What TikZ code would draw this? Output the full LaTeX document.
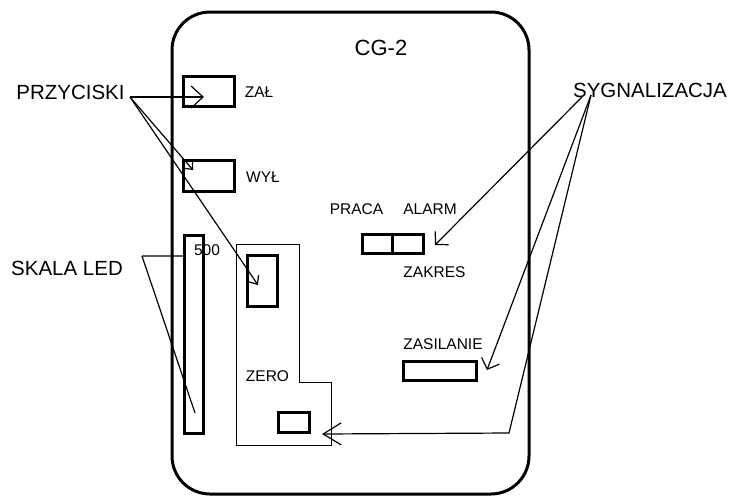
\documentclass[tikz,border=0pt]{standalone}
\usepackage{fontspec}
\setmainfont{Liberation Sans}
\usetikzlibrary{arrows.meta}
\tikzset{
	btn/.style={draw,line width=3,inner sep=0,outer sep=0},
	bigtxt/.style={inner sep=0,font=\fontsize{20.5}{22}\selectfont},
	smalltxt/.style={inner sep=0,font=\fontsize{15.5}{17}\selectfont},
	lead/.style={line width=1.2}
}
\begin{document}
\begin{tikzpicture}[x=1pt,y=-1pt,line join=miter]
			\useasboundingbox (0,0) rectangle (730,496);
			% obudowa
			\draw[line width=3,rounded corners=38] (172,12) rectangle (529,494);
			\node[inner sep=0,font=\fontsize{22}{24}\selectfont] (cg) at (381,48) {CG-2};
			% przyciski
			\node[btn,minimum width=51,minimum height=30] (zal) at (209,91.5) {};
			\node[btn,minimum width=51,minimum height=31] (wyl) at (209,176) {};
			\node[smalltxt] (zallbl) at (259,92) {ZAŁ};
			\node[smalltxt] (wyllbl) at (263,177) {WYŁ};
			% skala
			\node[btn,minimum width=19,minimum height=198] (led) at (194,334.5) {};
			\node[smalltxt] (ledlbl) at (207,250) {500};
			% pole zakresu
			\draw[line width=1] (236,244) -- (299,244) -- (299,382) -- (331,382) -- (331,445) -- (236,445) -- cycle;
			\node[btn,minimum width=30,minimum height=51] (zakr) at (262.5,281) {};
			\node[btn,minimum width=31,minimum height=20] (zero) at (294,422.5) {};
			\node[smalltxt] (zerolbl) at (267.5,376) {ZERO};
			% sygnalizacja
			\node[btn,minimum width=29.5,minimum height=19] (praca) at (377.25,244) {};
			\node[btn,minimum width=31.5,minimum height=19] (alarm) at (407.75,244) {};
			\node[smalltxt] (pracalbl) at (356.5,209) {PRACA};
			\node[smalltxt] (alarmlbl) at (430,209) {ALARM};
			\node[smalltxt] (zakrlbl) at (434.5,272) {ZAKRES};
			\node[btn,minimum width=73,minimum height=19] (zas) at (440,371) {};
			\node[smalltxt] (zaslbl) at (443,344) {ZASILANIE};
			% opisy
			\node[bigtxt] (przyc) at (70.5,92) {PRZYCISKI};
			\node[bigtxt] (skala) at (67,268) {SKALA LED};
			\node[bigtxt] (syg) at (650,90) {SYGNALIZACJA};
			\coordinate (pz) at (130,97);
			\coordinate (sk) at (142,256);
			\coordinate (sy1) at (582,97);
			\coordinate (sy2) at (591,95);
			\coordinate (ledend) at (195,413);
			\coordinate (zaltip) at (204,97);
			\coordinate (wyltip) at (193,170);
			\coordinate (zakrtip) at (258,285);
			\coordinate (alarmtip) at (435,245);
			\coordinate (zastip) at (487,370);
			\coordinate (zerotip) at (322,434);
			\coordinate (zerobend) at (509,433);
			\draw[lead,-{Straight Barb[length=12,width=22]}] (pz) -- (zaltip);
			\draw[lead,-{Straight Barb[length=6,width=11]}] (pz) -- (wyltip);
			\draw[lead,-{Straight Barb[length=7,width=12]}] (pz) -- (zakrtip);
			\draw[lead] (sk) -- (led.west |- sk) (sk) -- (ledend);
			\draw[lead,-{Straight Barb[length=9,width=19]}] (sy1) -- (alarmtip);
			\draw[lead,-{Straight Barb[length=9,width=19]}] (sy2) -- (zastip);
			\draw[lead,-{Straight Barb[length=18,width=22]}] (sy2) -- (zerobend) -- (zerotip);
		\end{tikzpicture}
\end{document}
